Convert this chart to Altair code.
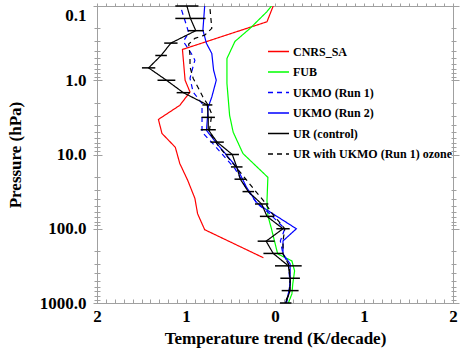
import altair as alt
import pandas as pd

series_names = ["CNRS_SA", "FUB", "UKMO (Run 1)", "UKMO (Run 2)", "UR (control)", "UR with UKMO (Run 1) ozone"]
series_colors = ["#ff0000", "#00ff00", "#0000ff", "#0000ff", "#000000", "#000000"]
series_dash = [[1, 0], [1, 0], [5, 4], [1, 0], [1, 0], [5, 4]]

cnrs_p = [0.1, 0.163, 0.385, 1.0, 1.44, 2.18, 3.37, 5.2, 8.0, 13.2, 22.4, 39, 62.7, 103, 246]
cnrs_t = [-0.02, -0.09, -1.04, -1.01, -0.955, -1.07, -1.31, -1.27, -1.12, -1.07, -0.98, -0.90, -0.87, -0.79, -0.13]

fub_p = [0.1, 0.119, 0.2, 0.30, 0.51, 1.1, 2.97, 5.0, 9.7, 20.3, 41.8, 66.7, 100, 218, 271, 370, 550, 754, 1000]
fub_t = [-0.04, -0.09, -0.28, -0.45, -0.54, -0.54, -0.51, -0.47, -0.36, -0.08, -0.09, -0.08, -0.04, 0.03, 0.19, 0.22, 0.20, 0.19, 0.15]

ukmo1_p = [0.113, 0.19, 0.23, 0.30, 0.436, 0.537, 0.65, 0.94, 1.44, 2.05, 3.16, 5.0, 7.1, 15.5, 28.8, 45.9, 62.7, 100, 146, 218, 297, 550, 754, 1000]
ukmo1_t = [-1.05, -0.99, -0.97, -1.03, -0.94, -0.90, -0.92, -0.955, -0.92, -0.82, -0.82, -0.82, -0.70, -0.45, -0.32, -0.20, -0.06, 0.11, 0.06, 0.09, 0.15, 0.17, 0.15, 0.12]

ukmo2_p = [0.1, 0.211, 0.319, 0.436, 0.73, 1.0, 1.68, 2.29, 4.74, 7.95, 14.9, 27.6, 44, 55, 100, 146, 218, 297, 550, 754, 1000]
ukmo2_t = [-0.79, -0.81, -0.77, -0.71, -0.69, -0.66, -0.71, -0.75, -0.77, -0.62, -0.43, -0.32, -0.21, -0.10, 0.24, 0.09, 0.09, 0.17, 0.17, 0.15, 0.13]

ur_p = [0.1, 0.147, 0.215, 0.316, 0.464, 0.681, 1.0, 1.47, 2.15, 3.16, 4.64, 6.81, 10, 14.7, 21.5, 31.6, 46.4, 68.1, 100, 147, 215, 316, 464, 681, 1000]
ur_t = [-0.99, -0.95, -0.89, -1.17, -1.28, -1.42, -1.22, -1.03, -0.76, -0.75, -0.75, -0.65, -0.48, -0.43, -0.39, -0.30, -0.15, -0.09, 0.09, -0.10, -0.02, 0.15, 0.17, 0.17, 0.12]
ur_err = [0.13, 0.17, 0.09, 0.075, 0.065, 0.075, 0.10, 0.075, 0.056, 0.075, 0.085, 0.075, 0.075, 0.065, 0.065, 0.065, 0.075, 0.08, 0.075, 0.095, 0.11, 0.15, 0.11, 0.095, 0.065]

urdash_p = [0.11, 0.2, 0.247, 0.273, 0.326, 0.46, 0.66, 0.94, 1.28, 1.68, 2.18, 2.88, 5.0, 7.55, 10.9, 19.2, 29, 41.8, 62.7, 100, 146, 218, 315, 505, 735, 1000]
urdash_t = [-0.73, -0.71, -0.79, -0.90, -0.97, -0.955, -0.955, -0.92, -0.86, -0.81, -0.75, -0.71, -0.74, -0.64, -0.53, -0.36, -0.24, -0.13, -0.03, 0.11, 0.09, 0.09, 0.16, 0.17, 0.16, 0.11]

x_major = [-2, -1, 0, 1, 2]
x_minor = [round(-2 + 0.1 * i, 1) for i in range(41)]
y_major = [0.1, 1, 10, 100, 1000]
y_minor = [round(d * 10 ** e, 6) for e in range(-1, 3) for d in range(2, 10)]

rows = []
for name, ps, ts in [
    ("CNRS_SA", cnrs_p, cnrs_t),
    ("FUB", fub_p, fub_t),
    ("UKMO (Run 1)", ukmo1_p, ukmo1_t),
    ("UKMO (Run 2)", ukmo2_p, ukmo2_t),
    ("UR (control)", ur_p, ur_t),
    ("UR with UKMO (Run 1) ozone", urdash_p, urdash_t),
]:
    for i, (p, t) in enumerate(zip(ps, ts)):
        rows.append({"series": name, "p": p, "t": t, "idx": i})
df = pd.DataFrame(rows)
err = pd.DataFrame({"p": ur_p,
                    "lo": [t - e for t, e in zip(ur_t, ur_err)],
                    "hi": [t + e for t, e in zip(ur_t, ur_err)]})

FONT = "Liberation Serif"
GREY = "#a0a0a0"
xs = alt.Scale(domain=[-2, 2], nice=False, zero=False)
ys = alt.Scale(type="log", domain=[0.1, 1000], reverse=True, nice=False)


def tick_axis(orient, values, size, offset):
    return alt.Axis(orient=orient, values=values, tickSize=size, offset=offset,
                    labels=False, domain=False, grid=False, title=None,
                    tickColor=GREY, tickWidth=1)


legend = alt.Legend(orient="none", legendX=170, legendY=34, title=None,
                    symbolType="stroke", symbolSize=441, symbolStrokeWidth=1.5,
                    labelFont=FONT, labelFontWeight="bold", labelFontSize=12,
                    labelColor="black", labelOffset=3, rowPadding=2.5, padding=0,
                    labelLimit=300)

lines = alt.Chart(df).mark_line(strokeWidth=1.2, clip=True).encode(
    x=alt.X("t:Q", scale=xs, axis=alt.Axis(
        orient="bottom", values=x_major, labelExpr="format(abs(datum.value), 'd')",
        ticks=False, domain=False, grid=False, labelFlush=False,
        labelFont=FONT, labelFontWeight="bold", labelFontSize=17, labelColor="black",
        labelPadding=5, title="Temperature trend (K/decade)", titleFont=FONT,
        titleFontWeight="bold", titleFontSize=17, titleColor="black", titlePadding=6)),
    y=alt.Y("p:Q", scale=ys, axis=alt.Axis(
        orient="left", values=y_major, format=".1f", ticks=False, domain=False,
        grid=False, labelOverlap=False, labelFont=FONT, labelFontWeight="bold",
        labelFontSize=17, labelColor="black", labelPadding=11,
        labelOffset={"condition": {"test": "datum.value < 0.5", "value": 9}, "value": 0},
        title="Pressure (hPa)", titleFont=FONT, titleFontWeight="bold",
        titleFontSize=17, titleColor="black", titlePadding=15)),
    color=alt.Color("series:N", scale=alt.Scale(domain=series_names, range=series_colors),
                    sort=series_names, legend=legend),
    strokeDash=alt.StrokeDash("series:N", scale=alt.Scale(domain=series_names, range=series_dash),
                              sort=series_names, legend=legend),
    order="idx:Q",
)

bars = alt.Chart(err).mark_rule(color="black", strokeWidth=1.5).encode(
    x=alt.X("lo:Q", scale=xs, axis=None),
    x2="hi:Q",
    y=alt.Y("p:Q", scale=ys, axis=None),
)

ghost = alt.Chart(df).mark_point(opacity=0)
t1 = ghost.encode(x=alt.X("t:Q", scale=xs, axis=tick_axis("bottom", x_minor, 4, -4)),
                  y=alt.Y("p:Q", scale=ys, axis=tick_axis("left", y_minor, 6, -3)))
t2 = ghost.encode(x=alt.X("t:Q", scale=xs, axis=tick_axis("top", x_minor, 3, 0)),
                  y=alt.Y("p:Q", scale=ys, axis=tick_axis("left", y_major, 9, -5)))
t3 = ghost.encode(x=alt.X("t:Q", scale=xs, axis=None),
                  y=alt.Y("p:Q", scale=ys, axis=tick_axis("right", y_minor, 5, -2)))
t4 = ghost.encode(x=alt.X("t:Q", scale=xs, axis=None),
                  y=alt.Y("p:Q", scale=ys, axis=tick_axis("right", y_major, 8, -2)))

chart = alt.layer(lines, bars, t1, t2, t3, t4).resolve_axis(
    x="independent", y="independent"
).properties(
    width=356, height=297,
    padding={"left": 97, "top": 6, "right": 8, "bottom": 51},
    autosize=alt.AutoSizeParams(type="none"),
    background="white",
).configure_view(stroke=GREY, strokeWidth=1)

chart.save("out.html", embed_options={"renderer": "svg", "actions": False})
